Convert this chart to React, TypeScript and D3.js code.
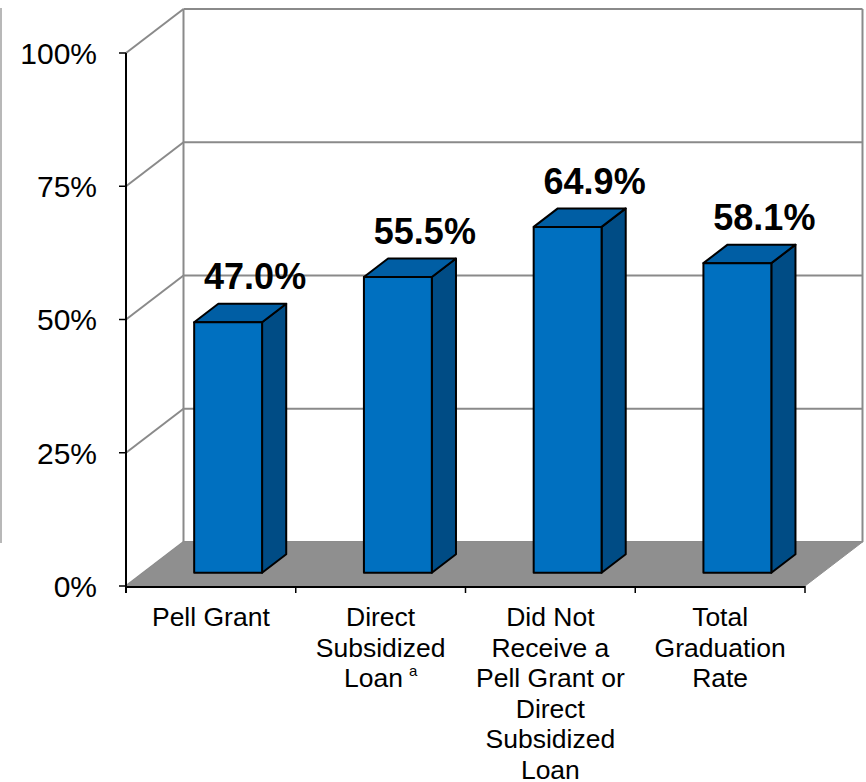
import React from "react";
import * as d3 from "d3";

const categories: string[] = ["Pell Grant", "Direct Subsidized Loan", "Did Not Receive a Pell Grant or Direct Subsidized Loan", "Total Graduation Rate"];
const categoryLines: string[][] = [
  ["Pell Grant"],
  ["Direct", "Subsidized", "Loan"],
  ["Did Not", "Receive a", "Pell Grant or", "Direct", "Subsidized", "Loan"],
  ["Total", "Graduation", "Rate"],
];
const footnotes: string[] = ["", "a", "", ""];
const values: number[] = [0.47, 0.555, 0.649, 0.581];
const valueLabels: string[] = ["47.0%", "55.5%", "64.9%", "58.1%"];
const yTicks: number[] = [0, 0.25, 0.5, 0.75, 1];
const yTickLabels: string[] = ["0%", "25%", "50%", "75%", "100%"];

const W = 866;
const H = 782;
const DX = 57.5;
const DY = -44;
const D0 = 0.3;
const D1 = 0.72;
const FONT = "'Liberation Sans', Arial, Helvetica, sans-serif";

export default function App() {
  const x = d3.scaleBand<string>().domain(categories).range([126, 805]).padding(0);
  const y = d3.scaleLinear().domain([0, 1]).range([586, 53]);
  const bw = x.bandwidth();
  const barW = bw * 0.4;
  const grid = "#8a8a8a";

  const P = (px: number, v: number, d: number) => [px + d * DX, y(v) + d * DY];
  const poly = (pts: number[][]) => pts.map((p) => p.join(",")).join(" ");

  const xL = x.range()[0];
  const xR = x.range()[1];

  return (
    <svg width={W} height={H} style={{ position: "absolute", left: 0, top: 0, background: "#fff" }} fontFamily={FONT}>
      {/* stray frame line */}
      <line x1={1} x2={1} y1={8} y2={543} stroke="#a0a0a0" strokeWidth={1.5} />
      {/* back wall grid */}
      {yTicks.map((t, i) => {
        const [ax, ay] = P(xL, t, 1);
        const [bx, by] = P(xR, t, 1);
        const [fx, fy] = P(xL, t, 0);
        return (
          <g key={"g" + i}>
            <line x1={ax} y1={ay} x2={bx} y2={by} stroke={grid} strokeWidth={2} />
            <line x1={fx} y1={fy} x2={ax} y2={ay} stroke={grid} strokeWidth={2} />
          </g>
        );
      })}
      {(() => {
        const [ax, ay] = P(xL, 0, 1);
        const [bx, by] = P(xL, 1, 1);
        const [cx, cy] = P(xR, 0, 1);
        const [dx, dy] = P(xR, 1, 1);
        return (
          <g>
            <line x1={ax} y1={ay} x2={bx} y2={by} stroke={grid} strokeWidth={2} />
            <line x1={cx} y1={cy} x2={dx} y2={dy} stroke={grid} strokeWidth={2} />
          </g>
        );
      })()}
      {/* floor */}
      <polygon points={poly([P(xL, 0, 0), P(xR, 0, 0), P(xR, 0, 1), P(xL, 0, 1)])} fill="#8f8f8f" stroke="#8f8f8f" strokeWidth={1} />
      {/* bars */}
      {categories.map((c, i) => {
        const left = (x(c) as number) + bw * 0.3;
        const right = left + barW;
        const v = values[i];
        const front = [P(left, 0, D0), P(right, 0, D0), P(right, v, D0), P(left, v, D0)];
        const side = [P(right, 0, D0), P(right, 0, D1), P(right, v, D1), P(right, v, D0)];
        const top = [P(left, v, D0), P(right, v, D0), P(right, v, D1), P(left, v, D1)];
        return (
          <g key={"b" + i} stroke="#000" strokeWidth={2} strokeLinejoin="round">
            <polygon points={poly(side)} fill="#004C85" />
            <polygon points={poly(top)} fill="#005EA4" />
            <polygon points={poly(front)} fill="#0070C0" />
          </g>
        );
      })}
      {/* value labels */}
      {categories.map((c, i) => {
        const left = (x(c) as number) + bw * 0.3;
        const [fx, fy] = P(left + barW / 2, values[i], D0);
        return (
          <text key={"v" + i} x={fx + 27} y={fy - 33} textAnchor="middle" fontSize={36} fontWeight="bold" fill="#000">
            {valueLabels[i]}
          </text>
        );
      })}
      {/* value axis */}
      <line x1={xL} x2={xL} y1={y(1)} y2={y(0) + 7} stroke="#000" strokeWidth={2} />
      {yTicks.map((t, i) => (
        <g key={"yt" + i}>
          <line x1={xL - 7} x2={xL} y1={y(t)} y2={y(t)} stroke="#000" strokeWidth={1.5} />
          <text x={97} y={y(t)} dy="0.36em" textAnchor="end" fontSize={30} fill="#000">
            {yTickLabels[i]}
          </text>
        </g>
      ))}
      {/* category axis */}
      <line x1={xL} x2={xR} y1={y(0) + 1} y2={y(0) + 1} stroke="#000" strokeWidth={2} />
      {categories.map((c, i) => (
        <line key={"ct" + i} x1={x(c) as number} x2={x(c) as number} y1={y(0)} y2={y(0) + 7} stroke="#000" strokeWidth={1.5} />
      ))}
      <line x1={xR} x2={xR} y1={y(0)} y2={y(0) + 7} stroke="#000" strokeWidth={1.5} />
      {categories.map((c, i) => {
        const cx = (x(c) as number) + bw / 2;
        const lines = categoryLines[i];
        return (
          <g key={"cl" + i}>
            {lines.map((ln, j) => (
              <text key={j} x={cx} y={626 + j * 30.5} textAnchor="middle" fontSize={26.5} fill="#000">
                {ln}
                {j === lines.length - 1 && footnotes[i] ? (
                  <tspan fontSize={15} dx={6} dy={-11}>
                    {footnotes[i]}
                  </tspan>
                ) : null}
              </text>
            ))}
          </g>
        );
      })}
    </svg>
  );
}
